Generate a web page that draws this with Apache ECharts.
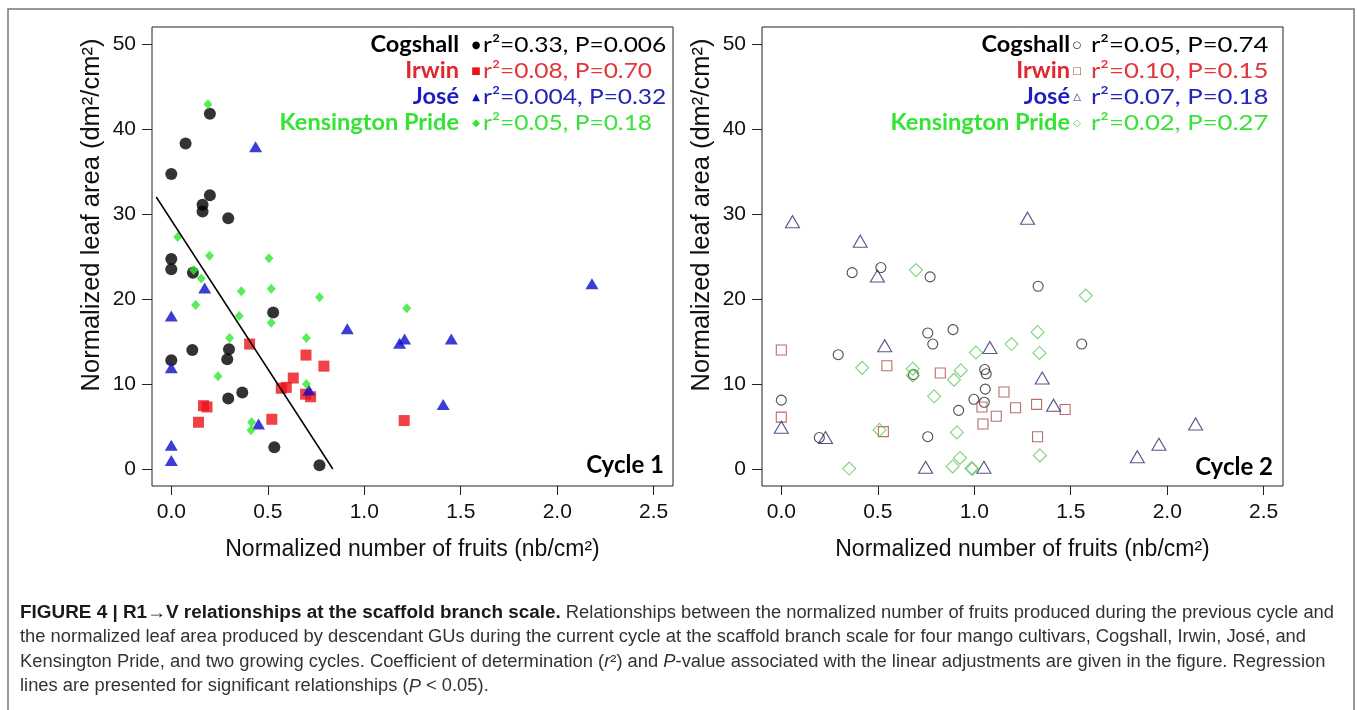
<!DOCTYPE html>
<html lang="en">
<head>
<meta charset="UTF-8">
<title>Figure 4</title>
<style>
  html, body { margin: 0; padding: 0; background: #fff; }
  #main { width: 1357px; height: 710px; }
</style>
</head>
<body>
<div id="main"></div>
<script src="https://cdn.jsdelivr.net/npm/echarts@6/dist/echarts.min.js"></script>
<script>
// cultivars and per-cycle stats
var cultivars = ['Cogshall', 'Irwin', 'José', 'Kensington Pride'];
var c1Stats = ['r²=0.33, P=0.006', 'r²=0.08, P=0.70', 'r²=0.004, P=0.32', 'r²=0.05, P=0.18'];
var c2Stats = ['r²=0.05, P=0.74', 'r²=0.10, P=0.15', 'r²=0.07, P=0.18', 'r²=0.02, P=0.27'];
var xTicks = [0, 0.5, 1, 1.5, 2, 2.5];
var yTicks = [0, 10, 20, 30, 40, 50];

// cycle 1 : [fruits, leaf area]
var c1Cogshall = [[0.20,41.8],[0.074,38.3],[0,34.7],[0.20,32.2],[0.162,31.1],[0.162,30.3],[0.295,29.5],
  [0,24.7],[0,23.5],[0.112,23.1],[0.528,18.4],[0.109,14.0],[0.299,14.1],[0.29,12.9],[0,12.8],
  [0.368,9.0],[0.295,8.3],[0.534,2.55],[0.768,0.44]];
var c1Irwin = [[0.406,14.7],[0.698,13.4],[0.791,12.1],[0.632,10.7],[0.596,9.6],[0.57,9.5],[0.696,8.8],
  [0.722,8.5],[0.167,7.45],[0.185,7.3],[0.141,5.5],[0.521,5.85],[1.207,5.7]];
var c1Jose = [[0.437,37.9],[0.173,21.3],[0,18.0],[0.912,16.5],[1.183,14.8],[1.209,15.3],[0,11.9],
  [0.713,9.3],[0.452,5.3],[0,2.8],[0,1.0],[2.18,21.8],[1.451,15.3],[1.409,7.6]];
var c1Kensington = [[0.19,42.9],[0.033,27.3],[0.198,25.1],[0.506,24.8],[0.116,23.4],[0.155,22.4],
  [0.363,20.9],[0.518,21.2],[0.768,20.2],[1.22,18.9],[0.126,19.3],[0.352,18.0],[0.518,17.2],
  [0.302,15.4],[0.70,15.4],[0.242,10.9],[0.70,10.0],[0.416,5.5],[0.413,4.55]];
// regression line for Cogshall, cycle 1
var c1Fit = [[-0.078,32.0],[0.837,0]];

// cycle 2
var c2Cogshall = [[0.367,23.1],[0.516,23.7],[0.771,22.6],[0.759,16.0],[0.89,16.4],[0.785,14.7],
  [0.295,13.45],[0.685,11.1],[1.054,11.7],[1.062,11.2],[1.057,9.4],[0,8.1],[0.998,8.2],[1.052,7.85],
  [0.919,6.9],[0.197,3.7],[0.759,3.8],[1.331,21.5],[1.557,14.7]];
var c2Irwin = [[0,14.0],[0.547,12.15],[0.824,11.3],[1.154,9.06],[1.04,7.3],[1.214,7.2],[1.114,6.2],
  [1.045,5.3],[0,6.1],[0.529,4.4],[1.323,7.6],[1.471,7.0],[1.328,3.8]];
var c2Jose = [[0.058,29.1],[0.409,26.8],[0.498,22.7],[0.536,14.5],[1.081,14.3],[0,4.9],[0.229,3.7],
  [0.748,0.2],[1.05,0.2],[1.276,29.5],[1.352,10.7],[1.411,7.5],[2.147,5.3],[1.957,2.9],[1.845,1.45]];
var c2Kensington = [[0.698,23.4],[1.009,13.7],[1.193,14.7],[0.419,11.9],[0.681,11.8],[0.681,11.0],
  [0.93,11.6],[0.895,10.5],[0.792,8.55],[0.509,4.6],[0.91,4.3],[0.926,1.3],[0.888,0.3],[0.986,0.1],
  [0.99,0],[0.352,0.05],[1.578,20.4],[1.328,16.1],[1.338,13.65],[1.34,1.6]];

var chart = echarts.init(document.getElementById('main'));

var nameColors = ['#000000', '#e3262c', '#1d1dc2', '#33e433'];
var statColors = ['#000000', '#e2363a', '#2525b8', '#3ae23a'];
var c1Colors = ['#000000', '#ec1219', '#0c0ccc', '#2ee82e'];
var c2Colors = ['#222222', '#a84a42', '#2a2a72', '#5cc75c'];
var legendFont = 'Lato, "Open Sans", sans-serif';
var plotFont = '"Liberation Sans", Arial, sans-serif';

function xAxisOf(i) {
  return {
    type: 'value', gridIndex: i, min: -0.1, max: 2.6,
    axisLine: { show: false, onZero: false }, splitLine: { show: false },
    axisTick: { show: true, inside: false, length: 9, customValues: xTicks, lineStyle: { color: '#222' } },
    axisLabel: { customValues: xTicks, margin: 16, fontSize: 21, color: '#111', fontFamily: plotFont,
      formatter: function (v) { return v.toFixed(1); } },
    name: 'Normalized number of fruits (nb/cm²)', nameLocation: 'middle', nameGap: 52,
    nameTextStyle: { fontSize: 23, color: '#111', fontFamily: plotFont }
  };
}
function yAxisOf(i) {
  return {
    type: 'value', gridIndex: i, min: -2, max: 52,
    axisLine: { show: false, onZero: false }, splitLine: { show: false },
    axisTick: { show: true, inside: false, length: 10, customValues: yTicks, lineStyle: { color: '#222' } },
    axisLabel: { customValues: yTicks, margin: 16, fontSize: 21, color: '#111', fontFamily: plotFont }
  };
}
function dots(data, idx, symbol, size, color, open) {
  return {
    type: 'scatter', xAxisIndex: idx, yAxisIndex: idx, data: data, symbol: symbol, symbolSize: size,
    itemStyle: open ? { color: 'rgba(0,0,0,0)', borderColor: color, borderWidth: 1.1 } : { color: color },
    silent: true
  };
}

// legend block of each panel, built from the arrays above
function legendBlock(nameRight, symX, statX, stats, statScale, symbols, symColors, symFont) {
  var els = [];
  for (var i = 0; i < cultivars.length; i++) {
    var y = 45 + i * 26;
    els.push({ type: 'text', x: nameRight, y: y, scaleX: 1.07, style: { text: cultivars[i], align: 'right', textAlign: 'right',
      verticalAlign: 'middle', textVerticalAlign: 'middle', font: 'bold 22px ' + legendFont, fill: nameColors[i] } });
    els.push({ type: 'text', x: symX, y: y, style: { text: symbols[i], align: 'center', textAlign: 'center',
      verticalAlign: 'middle', textVerticalAlign: 'middle', font: symFont, fill: symColors[i] } });
    els.push({ type: 'text', x: statX, y: y, scaleX: statScale, style: { text: stats[i], align: 'left', textAlign: 'left',
      verticalAlign: 'middle', textVerticalAlign: 'middle', font: '22px ' + legendFont, fill: statColors[i] } });
  }
  return els;
}

// caption, squeezed horizontally to look like a condensed face
var capFont = '"Liberation Sans", Arial, sans-serif';
var capSize = 18;
var capBold = 'FIGURE 4 | R1→V relationships at the scaffold branch scale.';
var capRest1 = ' Relationships between the normalized number of fruits produced during the previous cycle and';
var capLine2 = 'the normalized leaf area produced by descendant GUs during the current cycle at the scaffold branch scale for four mango cultivars, Cogshall, Irwin, José, and';
var capLine3 = 'Kensington Pride, and two growing cycles. Coefficient of determination ({i|r}²) and {i|P}-value associated with the linear adjustments are given in the figure. Regression';
var capLine4 = 'lines are presented for significant relationships ({i|P} < 0.05).';
var ctx = document.createElement('canvas').getContext('2d');
ctx.font = 'bold ' + capSize + 'px ' + capFont;
var wB = ctx.measureText(capBold).width;
ctx.font = capSize + 'px ' + capFont;
var wR = ctx.measureText(capRest1).width;
var w2 = ctx.measureText(capLine2).width;
var sReg = 1286 / w2;
var sBold = (1314 - sReg * wR) / wB;
var capRich = { i: { fontStyle: 'italic', fontSize: capSize, fontFamily: capFont, fill: '#333' } };
function capText(x, y, t, bold, s) {
  return { type: 'text', x: x, y: y, scaleX: s, style: { text: t, rich: capRich,
    verticalAlign: 'middle', textVerticalAlign: 'middle',
    font: (bold ? 'bold ' : '') + capSize + 'px ' + capFont, fill: bold ? '#1a1a1a' : '#333' } };
}

var graphics = [
  { type: 'rect', shape: { x: 8, y: 9, width: 1346, height: 720 }, style: { fill: 'none', stroke: '#777', lineWidth: 1.5 }, silent: true },
  { type: 'text', x: 92, y: 215, rotation: Math.PI / 2, style: { text: 'Normalized leaf area (dm²/cm²)', align: 'center', textAlign: 'center',
    verticalAlign: 'middle', textVerticalAlign: 'middle', font: '25.5px ' + plotFont, fill: '#111' } },
  { type: 'text', x: 702, y: 215, rotation: Math.PI / 2, style: { text: 'Normalized leaf area (dm²/cm²)', align: 'center', textAlign: 'center',
    verticalAlign: 'middle', textVerticalAlign: 'middle', font: '25.5px ' + plotFont, fill: '#111' } },
  { type: 'text', x: 664, y: 465, style: { text: 'Cycle 1', align: 'right', textAlign: 'right', verticalAlign: 'middle',
    textVerticalAlign: 'middle', font: 'bold 24px ' + legendFont, fill: '#000' } },
  { type: 'text', x: 1273, y: 467, style: { text: 'Cycle 2', align: 'right', textAlign: 'right', verticalAlign: 'middle',
    textVerticalAlign: 'middle', font: 'bold 24px ' + legendFont, fill: '#000' } }
];
graphics = graphics.concat(legendBlock(459, 476, 483, c1Stats, 1.115, ['●', '■', '▲', '◆'], c1Colors, '10px "DejaVu Sans"'));
graphics = graphics.concat(legendBlock(1070, 1077, 1091, c2Stats, 1.17, ['○', '□', '△', '◇'], c2Colors, '10px "DejaVu Sans"'));
graphics.push(capText(20, 613, capBold, true, sBold));
graphics.push(capText(20 + sBold * wB, 613, capRest1, false, sReg));
graphics.push(capText(20, 637.5, capLine2, false, sReg));
graphics.push(capText(20, 662, capLine3, false, sReg));
graphics.push(capText(20, 686.5, capLine4, false, sReg));

var option = {
  animation: false,
  backgroundColor: '#fff',
  grid: [
    { left: 152, top: 27, width: 521, height: 459, show: true, borderColor: '#222', borderWidth: 1, backgroundColor: 'transparent' },
    { left: 762, top: 27, width: 521, height: 459, show: true, borderColor: '#222', borderWidth: 1, backgroundColor: 'transparent' }
  ],
  xAxis: [xAxisOf(0), xAxisOf(1)],
  yAxis: [yAxisOf(0), yAxisOf(1)],
  series: [
    dots(c1Cogshall, 0, 'circle', 12, c1Colors[0], false),
    dots(c1Irwin, 0, 'rect', 11, c1Colors[1], false),
    dots(c1Jose, 0, 'triangle', [13, 11], c1Colors[2], false),
    dots(c1Kensington, 0, 'diamond', [9, 10], c1Colors[3], false),
    { type: 'line', xAxisIndex: 0, yAxisIndex: 0, data: c1Fit, symbol: 'none', silent: true,
      lineStyle: { color: '#000', width: 1.5 } },
    dots(c2Cogshall, 1, 'circle', 10, c2Colors[0], true),
    dots(c2Irwin, 1, 'rect', 10, c2Colors[1], true),
    dots(c2Jose, 1, 'triangle', [14, 12], c2Colors[2], true),
    dots(c2Kensington, 1, 'diamond', [13, 13], c2Colors[3], true)
  ],
  graphic: graphics
};
chart.setOption(option);
</script>
</body>
</html>
